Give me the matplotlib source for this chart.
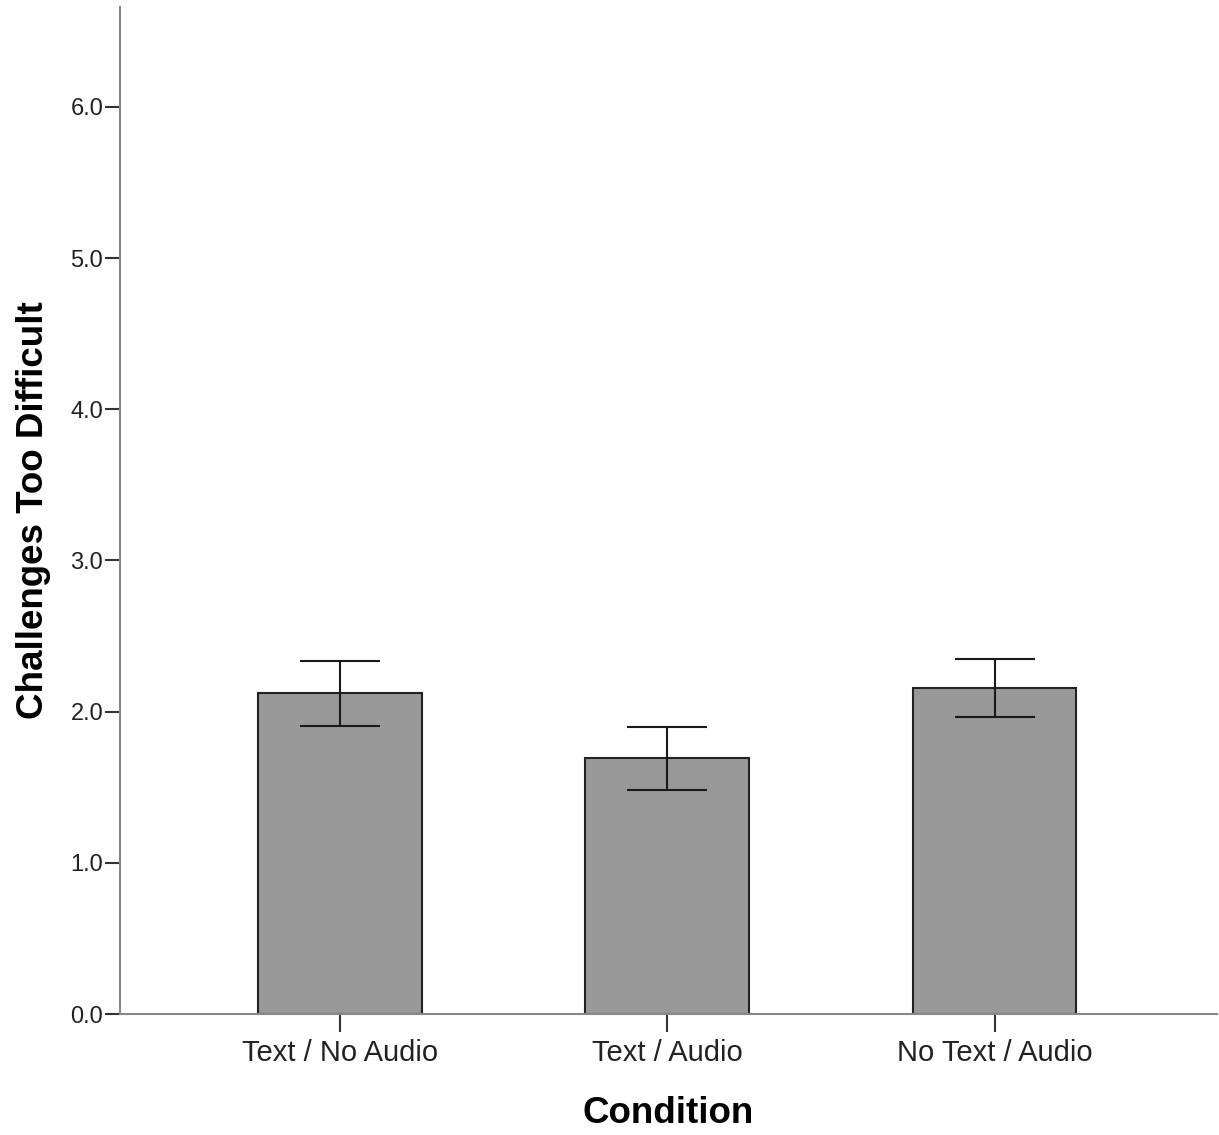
import matplotlib
matplotlib.use("Agg")
import matplotlib.pyplot as plt
import numpy as np

# data
conditions = ["Text / No Audio", "Text / Audio", "No Text / Audio"]
means = [2.126, 1.695, 2.159]
err_low = [1.907, 1.483, 1.967]
err_high = [2.338, 1.900, 2.351]

plt.rcParams['font.family'] = ['Liberation Sans', 'DejaVu Sans']

fig = plt.figure(figsize=(12.19, 11.35), dpi=100)
ax = fig.add_axes([0.0984, 0.1066, 0.8996, 0.8872])

x = np.arange(len(conditions))
means_a = np.array(means)
yerr = [means_a - np.array(err_low), np.array(err_high) - means_a]

ax.bar(x, means, width=0.5, color="#999999", edgecolor="#222222", linewidth=1.5)
ax.errorbar(x, means, yerr=yerr, fmt="none", ecolor="#1a1a1a", elinewidth=1.5,
            capsize=29, capthick=1.5)

ax.set_xlim(-0.672, 2.678)
ax.set_ylim(0, 6.66)
ax.set_yticks([0, 1, 2, 3, 4, 5, 6])
ax.set_yticklabels(["0.0", "1.0", "2.0", "3.0", "4.0", "5.0", "6.0"])
ax.set_xticks(x)
ax.set_xticklabels(conditions)

for s in ["top", "right"]:
    ax.spines[s].set_visible(False)
for s in ["left", "bottom"]:
    ax.spines[s].set_color("#888888")
    ax.spines[s].set_linewidth(1.5)

ax.tick_params(axis="y", length=11, width=1.5, color="#333333", labelsize=17,
               labelcolor="#222222", pad=1)
ax.tick_params(axis="x", length=13, width=1.5, color="#333333", labelsize=21,
               labelcolor="#222222", pad=5)

ax.set_xlabel("Condition", fontsize=26.5, fontweight="bold", labelpad=21)
ax.set_ylabel("Challenges Too Difficult", fontsize=26.5, fontweight="bold", labelpad=14)

fig.savefig("out.png", dpi=100)
